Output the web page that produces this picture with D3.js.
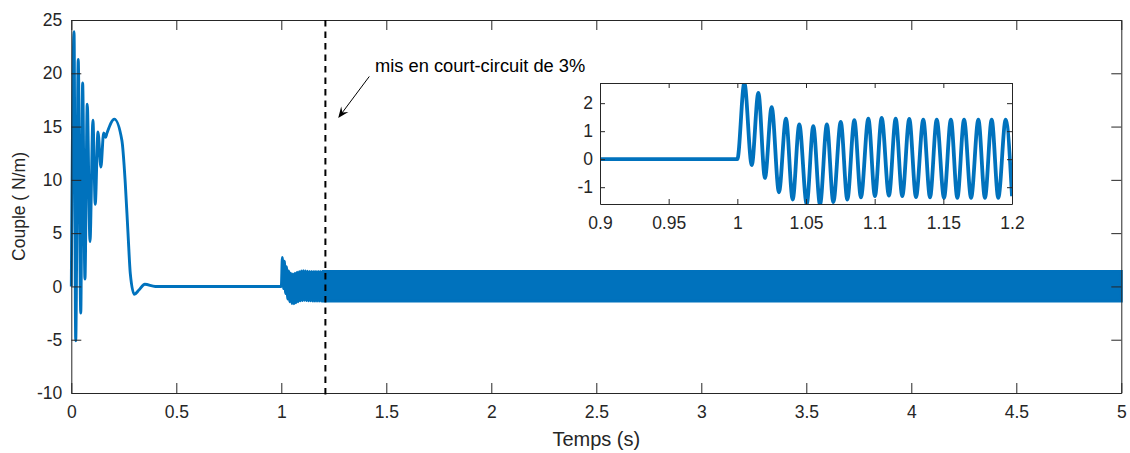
<!DOCTYPE html>
<html>
<head>
<meta charset="utf-8">
<script src="https://cdn.jsdelivr.net/npm/d3@7"></script>
<style>
body { margin: 0; background: #fff; }
svg { display: block; font-family: "Liberation Sans", Arial, sans-serif; }
.axis path, .axis line { stroke: #262626; }
.axis text { fill: #262626; }
</style>
</head>
<body>
<svg id="chart" width="1130" height="453"></svg>
<script>
// start-up transient (s, N/m)
var startTimes  = [0, 0.013, 0.021, 0.033, 0.045, 0.054, 0.065, 0.076, 0.089, 0.103, 0.114, 0.127, 0.141, 0.154, 0.163, 0.170, 0.205, 0.241, 0.257, 0.270, 0.281, 0.300, 0.322, 0.350, 0.400];
var startValues = [0, 23.9, -5.1, 21.3, -2.5, 19.1, 0.7, 17.1, 4.2, 15.6, 7.7, 14.5, 11.2, 14.4, 14.0, 14.4, 15.7, 13.7, 9.7, 5.0, 1.2, -0.74, -0.34, 0.2, 0];

var faultTimes  = [0.9, 1.0, 1.0051, 1.0105, 1.0153, 1.0201, 1.025, 1.0303, 1.0354, 1.0403, 1.0451, 1.0505, 1.0553, 1.0602, 1.0652, 1.0699, 1.0753, 1.0801, 1.0852, 1.090, 1.0954, 1.1002, 1.1051, 1.1104, 1.1153, 1.1201, 1.1252, 1.1301, 1.1354, 1.1403, 1.1452, 1.1505, 1.1555, 1.1602, 1.1651, 1.1702, 1.1755, 1.1803, 1.1852, 1.19, 1.1954, 1.2];
var faultValues = [0, 0, 2.72, -0.21, 2.37, -0.67, 1.86, -1.18, 1.45, -1.44, 1.24, -1.6, 1.18, -1.62, 1.24, -1.53, 1.33, -1.44, 1.39, -1.36, 1.45, -1.32, 1.47, -1.3, 1.45, -1.32, 1.44, -1.35, 1.41, -1.36, 1.41, -1.38, 1.41, -1.38, 1.41, -1.38, 1.41, -1.38, 1.41, -1.38, 1.41, -1.32];

// steady oscillation (100 Hz) after 1.2 s shows as a band: envelope
var bandTimes = [1.2, 5];
var bandUpper = [1.41, 1.41];
var bandLower = [-1.38, -1.38];

var xTicks = [0, 0.5, 1, 1.5, 2, 2.5, 3, 3.5, 4, 4.5, 5];
var yTicks = [-10, -5, 0, 5, 10, 15, 20, 25];
var insetXTicks = [0.9, 0.95, 1, 1.05, 1.1, 1.15, 1.2];
var insetYTicks = [-1, 0, 1, 2];

var shortCircuitTime = 1.21;
var noteText = "mis en court-circuit de 3%";

var blue = "#0072bd";
var plain = function (d) { return String(d); };   // hyphen minus, no padding zeros
var svg = d3.select("#chart");

// main axes
var x = d3.scaleLinear().domain([0, 5]).range([71.3, 1121.3]);
var y = d3.scaleLinear().domain([-10, 25]).range([393, 20]);

var line = d3.line()
    .x(function (d) { return x(d[0]); })
    .y(function (d) { return y(d[1]); })
    .curve(d3.curveMonotoneX);

var mainData = d3.zip(startTimes, startValues)
    .concat(d3.zip(faultTimes, faultValues).filter(function (d) { return d[0] >= 1; }));

svg.append("path")
    .datum(d3.zip(bandTimes, bandUpper, bandLower))
    .attr("fill", blue)
    .attr("stroke", blue)
    .attr("stroke-width", 2.9)
    .attr("d", d3.area()
        .x(function (d) { return x(d[0]); })
        .y0(function (d) { return y(d[2]); })
        .y1(function (d) { return y(d[1]); }));

svg.append("path")
    .datum(mainData)
    .attr("fill", "none")
    .attr("stroke", blue)
    .attr("stroke-width", 2.9)
    .attr("stroke-linejoin", "round")
    .attr("d", line);

// box with inward ticks
svg.append("g").attr("class", "axis")
    .attr("transform", "translate(0,393)")
    .call(d3.axisBottom(x).tickValues(xTicks).tickSizeInner(-10).tickSizeOuter(0).tickPadding(13)
        .tickFormat(plain))
    .style("font-size", "17.5px").style("font-family", null);
svg.append("g").attr("class", "axis")
    .attr("transform", "translate(0,20)")
    .call(d3.axisTop(x).tickValues(xTicks).tickSizeInner(-10).tickSizeOuter(0).tickFormat(""));
svg.append("g").attr("class", "axis")
    .attr("transform", "translate(71.3,0)")
    .call(d3.axisLeft(y).tickValues(yTicks).tickSizeInner(-10).tickSizeOuter(0).tickPadding(9)
        .tickFormat(plain))
    .style("font-size", "17.5px").style("font-family", null);
svg.append("g").attr("class", "axis")
    .attr("transform", "translate(1121.3,0)")
    .call(d3.axisRight(y).tickValues(yTicks).tickSizeInner(-10).tickSizeOuter(0).tickFormat(""));

svg.append("text")
    .attr("x", (x.range()[0] + x.range()[1]) / 2)
    .attr("y", 446)
    .attr("text-anchor", "middle")
    .attr("fill", "#262626")
    .style("font-size", "20px")
    .text("Temps (s)");
svg.append("text")
    .attr("transform", "translate(25," + (y.range()[0] + y.range()[1]) / 2 + ") rotate(-90)")
    .attr("text-anchor", "middle")
    .attr("fill", "#262626")
    .style("font-size", "17.5px")
    .text("Couple ( N/m)");

// dashed marker + note
svg.append("line")
    .attr("x1", x(shortCircuitTime)).attr("x2", x(shortCircuitTime))
    .attr("y1", y(25)).attr("y2", y(-10) + 6)
    .attr("stroke", "#000")
    .attr("stroke-width", 2)
    .attr("stroke-dasharray", "6.5,5");

svg.append("text")
    .attr("x", x(1.446))
    .attr("y", y(20.15))
    .attr("fill", "#000")
    .style("font-size", "18.3px")
    .text(noteText);

var tail = [x(1.419), y(19.7)], tip = [x(1.271), y(15.8)];
var ang = Math.atan2(tip[1] - tail[1], tip[0] - tail[0]);
function pt(len, off) {
  return [tip[0] - len * Math.cos(ang) - off * Math.sin(ang),
          tip[1] - len * Math.sin(ang) + off * Math.cos(ang)];
}
svg.append("line")
    .attr("x1", tail[0]).attr("y1", tail[1])
    .attr("x2", pt(6, 0)[0]).attr("y2", pt(6, 0)[1])
    .attr("stroke", "#000").attr("stroke-width", 1);
svg.append("path")
    .attr("d", "M" + [tip, pt(11, 4.5), pt(7, 0), pt(11, -4.5)].join("L") + "Z")
    .attr("fill", "#000");

// inset
var ix = d3.scaleLinear().domain([0.9, 1.2]).range([600, 1012]);
var iy = d3.scaleLinear().domain([-1.6, 2.72]).range([204, 83]);

var inset = svg.append("g");
inset.append("rect")
    .attr("x", 600).attr("y", 83).attr("width", 412).attr("height", 121)
    .attr("fill", "#fff");
inset.append("clipPath").attr("id", "insetClip")
    .append("rect").attr("x", 600).attr("y", 83).attr("width", 412).attr("height", 121);

inset.append("path")
    .datum(d3.zip(faultTimes, faultValues))
    .attr("clip-path", "url(#insetClip)")
    .attr("fill", "none")
    .attr("stroke", blue)
    .attr("stroke-width", 3.8)
    .attr("d", d3.line()
        .x(function (d) { return ix(d[0]); })
        .y(function (d) { return iy(d[1]); })
        .curve(d3.curveMonotoneX));

inset.append("g").attr("class", "axis")
    .attr("transform", "translate(0,204)")
    .call(d3.axisBottom(ix).tickValues(insetXTicks).tickSizeInner(-5).tickSizeOuter(0).tickPadding(13)
        .tickFormat(plain))
    .style("font-size", "17.5px").style("font-family", null);
inset.append("g").attr("class", "axis")
    .attr("transform", "translate(0,83)")
    .call(d3.axisTop(ix).tickValues(insetXTicks).tickSizeInner(-5).tickSizeOuter(0).tickFormat(""));
inset.append("g").attr("class", "axis")
    .attr("transform", "translate(600,0)")
    .call(d3.axisLeft(iy).tickValues(insetYTicks).tickSizeInner(-5).tickSizeOuter(0).tickPadding(7)
        .tickFormat(plain))
    .style("font-size", "17.5px").style("font-family", null);
inset.append("g").attr("class", "axis")
    .attr("transform", "translate(1012,0)")
    .call(d3.axisRight(iy).tickValues(insetYTicks).tickSizeInner(-5).tickSizeOuter(0).tickFormat(""));
</script>
</body>
</html>
